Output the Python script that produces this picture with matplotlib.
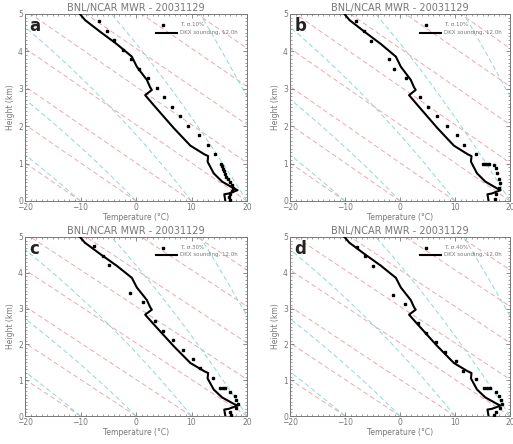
import numpy as np
import matplotlib
matplotlib.use("Agg")
import matplotlib.pyplot as plt
from matplotlib.ticker import MultipleLocator

# ---------------- data ----------------
panel_labels = ["a", "b", "c", "d"]
title_text = "BNL/NCAR MWR - 20031129"
legend_dots = ["T, \u03c3.10%", "T, \u03c3.10%", "T, \u03c3.30%", "T, \u03c3.40%"]
legend_line = "DKX sounding, 12.0h"

# sounding (same in all panels)
snd_T = [-10.1, -9.2, -6.5, -3.5, -0.75, 0.15, 1.95, 2.55, 2.85, 1.65, 3.15,
         6.8, 9.8, 12.3, 13.0, 12.9, 14.0, 15.5, 17.6, 18.3, 16.7, 15.9, 16.1]
snd_z = [5.0, 4.84, 4.53, 4.2, 3.86, 3.59, 3.24, 3.04, 2.97, 2.83, 2.57,
         1.95, 1.48, 1.25, 1.2, 1.05, 0.74, 0.52, 0.34, 0.29, 0.2, 0.18, 0.0]

# retrieved profiles (dots)
a_T = [-6.7, -5.3, -3.9, -2.4, -0.9, 0.5, 2.1, 3.8, 5.1, 6.5, 7.9, 9.4, 11.3,
       13.0, 14.2, 15.3, 15.5, 15.6, 15.8, 16.0, 16.3, 16.6, 17.0, 17.3, 17.5,
       17.3, 17.0, 16.7, 17.0]
a_z = [4.81, 4.55, 4.3, 4.05, 3.8, 3.53, 3.3, 3.03, 2.78, 2.52, 2.27, 2.0, 1.76,
       1.5, 1.26, 1.0, 0.93, 0.86, 0.79, 0.72, 0.65, 0.58, 0.5, 0.42, 0.35,
       0.28, 0.2, 0.1, 0.03]

b_T = [-8.0, -6.5, -5.2, -2.0, -1.15, 1.0, 3.6, 5.0, 6.8, 8.5, 10.3, 11.7, 13.9,
       15.0, 15.4, 15.8, 16.2, 17.0, 17.4, 17.7, 18.0, 18.2, 18.0, 17.4, 17.2]
b_z = [4.81, 4.55, 4.29, 3.79, 3.54, 3.29, 2.77, 2.52, 2.26, 2.0, 1.76, 1.5, 1.26,
       1.0, 1.0, 1.0, 1.0, 0.95, 0.89, 0.74, 0.6, 0.47, 0.35, 0.18, 0.06]

c_T = [-7.5, -6.0, -4.8, -1.0, 1.2, 3.4, 4.9, 6.7, 8.4, 10.2, 11.6, 13.9,
       15.2, 15.6, 16.0, 16.9, 17.8, 18.1, 18.3, 18.0, 17.0, 17.2]
c_z = [4.75, 4.47, 4.23, 3.44, 3.19, 2.65, 2.37, 2.12, 1.84, 1.58, 1.33, 1.05,
       0.79, 0.79, 0.79, 0.68, 0.57, 0.45, 0.33, 0.22, 0.12, 0.03]

d_T = [-7.9, -6.4, -5.0, -1.3, 0.9, 3.3, 4.7, 6.5, 8.2, 10.2, 11.5, 13.8,
       15.3, 15.8, 16.4, 17.4, 18.0, 18.3, 18.5, 18.2, 17.4, 17.1]
d_z = [4.72, 4.46, 4.18, 3.39, 3.14, 2.6, 2.32, 2.07, 1.79, 1.54, 1.27, 1.02,
       0.79, 0.79, 0.79, 0.68, 0.57, 0.45, 0.33, 0.22, 0.12, 0.03]

dots_T = [a_T, b_T, c_T, d_T]
dots_z = [a_z, b_z, c_z, d_z]

# background reference lines: surface temperatures of adiabats (deg C)
dry_surface_T = [-20, -10, 0, 10, 20, 30, 40, 50, 60, 70]
moist_surface_T = [-20, -10, 0, 10, 20, 30, 40, 50]

# ---------------- reference curves ----------------
g, cp, Rd, Lv, eps = 9.81, 1004.0, 287.0, 2.5e6, 0.622
zz = np.linspace(0, 5, 201)


def moist_adiabat(Ts):
    T = Ts + 273.15
    out = [T]
    dz = (zz[1] - zz[0]) * 1000.0
    for k in range(1, len(zz)):
        p = 1013.0 * np.exp(-zz[k - 1] / 8.0)
        Tc = T - 273.15
        es = 6.112 * np.exp(17.67 * Tc / (Tc + 243.5))
        rs = eps * es / (p - es)
        gam = g * (1 + Lv * rs / (Rd * T)) / (cp + Lv ** 2 * rs * eps / (Rd * T ** 2))
        T = T - gam * dz
        out.append(T)
    return np.array(out) - 273.15


# ---------------- figure ----------------
fig = plt.figure(figsize=(5.13, 4.44), dpi=100)
positions = [
    [25 / 513, 1 - 201 / 444, 222 / 513, 187 / 444],
    [290 / 513, 1 - 201 / 444, 220 / 513, 187 / 444],
    [25 / 513, 1 - 416 / 444, 222 / 513, 179 / 444],
    [290 / 513, 1 - 416 / 444, 220 / 513, 179 / 444],
]
gray = "#777777"
red_c = "#e9a9b0"
cyan_c = "#92d8d8"

for i in range(4):
    ax = fig.add_axes(positions[i])
    for Ts in dry_surface_T:
        ax.plot(Ts - 9.8 * zz, zz, color=red_c, lw=0.7, dashes=(5, 3), zorder=1)
    for Ts in moist_surface_T:
        ax.plot(moist_adiabat(Ts), zz, color=cyan_c, lw=0.7, dashes=(5, 3), zorder=1)

    ax.plot(dots_T[i], dots_z[i], ls="none", marker="s", ms=1.8, color="black",
            zorder=3)
    ax.plot(snd_T, snd_z, color="black", lw=1.5, zorder=4)

    ax.set_xlim(-20, 20)
    ax.set_ylim(0, 5)
    ax.xaxis.set_major_locator(MultipleLocator(10))
    ax.xaxis.set_minor_locator(MultipleLocator(1))
    ax.yaxis.set_major_locator(MultipleLocator(1))
    ax.yaxis.set_minor_locator(MultipleLocator(0.1))
    ax.tick_params(which="both", direction="in", top=True, right=True,
                   colors=gray, labelsize=5.5, pad=1.5)
    ax.tick_params(which="major", length=3, width=0.6)
    ax.tick_params(which="minor", length=1.5, width=0.5)
    for s in ax.spines.values():
        s.set_color(gray)
        s.set_linewidth(0.7)
    ax.set_title(title_text, fontsize=7, color=gray, pad=2)
    ax.set_xlabel("Temperature (\u00b0C)", fontsize=5.5, color=gray, labelpad=1)
    ax.set_ylabel("Height (km)", fontsize=5.5, color=gray, labelpad=2)
    ax.text(0.02, 0.985, panel_labels[i], transform=ax.transAxes, fontsize=12,
            fontweight="bold", color="#222222", va="top", ha="left", zorder=5)

    # legend drawn manually in axes coordinates
    ax.plot([0.62], [0.94], transform=ax.transAxes, marker="s", ms=1.8,
            color="black", ls="none", zorder=5)
    ax.text(0.70, 0.945, legend_dots[i], transform=ax.transAxes, fontsize=4.0,
            color=gray, va="center", ha="left", zorder=5)
    ax.plot([0.59, 0.685], [0.90, 0.90], transform=ax.transAxes,
            color="black", lw=1.5, zorder=5)
    ax.text(0.70, 0.90, legend_line, transform=ax.transAxes, fontsize=4.0,
            color=gray, va="center", ha="left", zorder=5)

fig.savefig("out.png", dpi=100)
